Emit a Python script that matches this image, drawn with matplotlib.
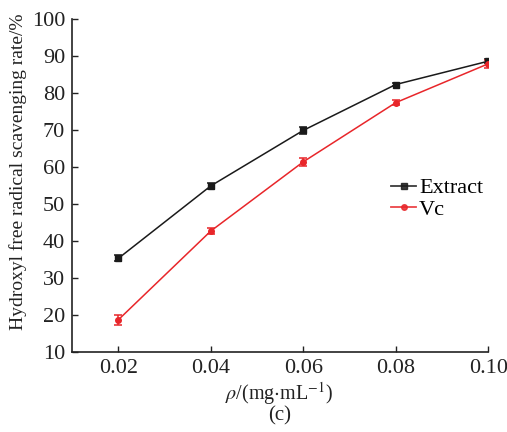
import matplotlib
matplotlib.use("Agg")
import matplotlib.pyplot as plt
from matplotlib.legend_handler import HandlerLine2D
from matplotlib.lines import Line2D

conc = [0.02, 0.04, 0.06, 0.08, 0.10]
extract = [35.3, 54.9, 69.9, 82.3, 88.6]
extract_err = [0.8, 0.9, 0.9, 0.5, 0.6]
vc = [18.7, 42.7, 61.4, 77.4, 87.9]
vc_err = [1.3, 0.8, 1.1, 0.6, 1.1]
xticks = [0.02, 0.04, 0.06, 0.08, 0.10]
xticklabels = ["0.02", "0.04", "0.06", "0.08", "0.10"]
yticks = [10, 20, 30, 40, 50, 60, 70, 80, 90, 100]

plt.rcParams['font.family'] = ['Liberation Serif', 'DejaVu Serif']
plt.rcParams['mathtext.fontset'] = 'stix'

black = '#1a1a1a'
red = '#e8262a'

fig = plt.figure(figsize=(5.07, 4.32), dpi=100)
ax = fig.add_axes([0.142, 0.185, 0.821, 0.771])

ax.errorbar(conc, extract, yerr=extract_err, color=black, marker='s', markersize=4,
            linewidth=1.1, capsize=3, elinewidth=1.1, capthick=1.1)
ax.errorbar(conc, vc, yerr=vc_err, color=red, marker='o', markersize=4,
            linewidth=1.1, capsize=3, elinewidth=1.1, capthick=1.1)

ax.set_xlim(0.01, 0.10)
ax.set_ylim(10, 100)
ax.set_xticks(xticks)
ax.set_xticklabels(xticklabels)
ax.set_yticks(yticks)
ax.tick_params(direction='in', labelsize=16, length=4, width=1, colors='#222222', pad=5)
for s in ['top', 'right']:
    ax.spines[s].set_visible(False)
for s in ['left', 'bottom']:
    ax.spines[s].set_color('#222222')
    ax.spines[s].set_linewidth(1.2)

ax.set_ylabel('Hydroxyl free radical scavenging rate/%', fontsize=14, color='#222222',
              va='center')
ax.yaxis.set_label_coords(-0.13, 0.54)
fig.text(0.551, 0.090, r'$\rho$/(mg$\cdot$mL$^{-1}$)', ha='center', va='center',
         fontsize=14.5, color='#222222')
fig.text(0.551, 0.038, '(c)', ha='center', va='center', fontsize=15, color='#222222')


class LeftMarkerHandler(HandlerLine2D):
    def get_xdata(self, legend, xdescent, ydescent, width, height, fontsize):
        xdata = [-xdescent, -xdescent + width]
        return xdata, [-xdescent + 1]


h1 = Line2D([], [], color=black, marker='s', markersize=4, linewidth=1.3, alpha=0.85)
h2 = Line2D([], [], color=red, marker='o', markersize=4, linewidth=1.3, alpha=0.85)
ax.legend([h1, h2], ['Extract', 'Vc'], loc='upper left', bbox_to_anchor=(0.746, 0.55),
          frameon=False, fontsize=16, handlelength=1.1, handletextpad=0.15,
          labelspacing=0.05, borderaxespad=0, numpoints=1,
          handler_map={Line2D: LeftMarkerHandler()})

fig.savefig('out.png', dpi=100)
